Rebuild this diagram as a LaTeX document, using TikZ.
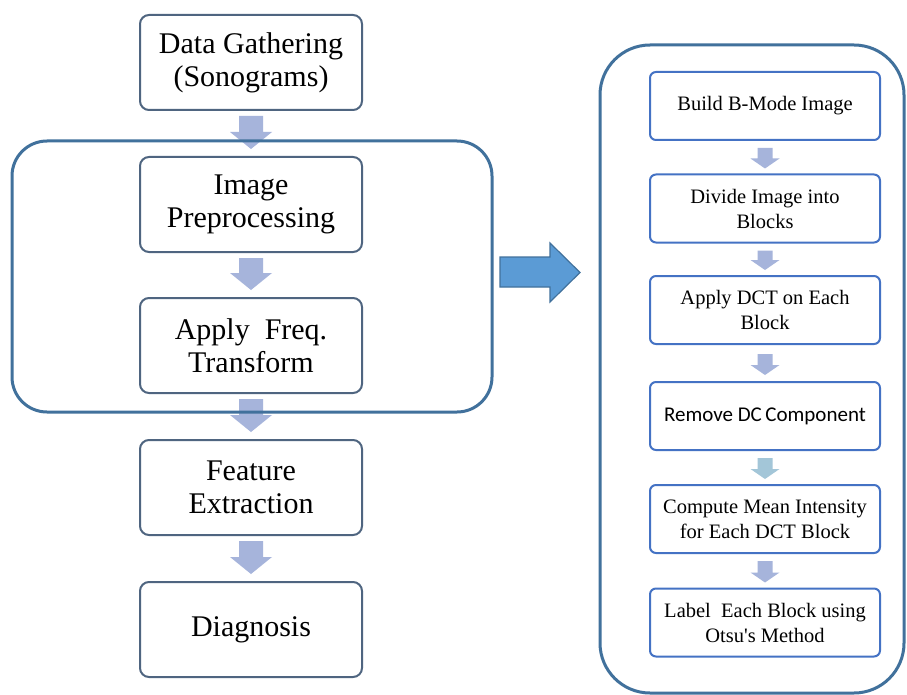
\documentclass[tikz,border=0pt]{standalone}
\usepackage{fontspec}
\setmainfont{Liberation Serif}
\newfontfamily\calib{Carlito}
\usetikzlibrary{calc}
\definecolor{grpc}{HTML}{41719C}
\definecolor{lboxc}{HTML}{4F6580}
\definecolor{rboxc}{HTML}{4472C4}
\definecolor{arrc}{HTML}{A6B4DB}
\definecolor{arrc2}{HTML}{A3C6D8}
\definecolor{bigfill}{HTML}{5B9BD5}
\tikzset{
  lbox/.style={draw=lboxc, line width=2pt, rounded corners=9pt, fill=white,
    minimum width=222pt, minimum height=95pt, inner sep=0pt, align=center,
    font=\rmfamily\fontsize{30}{33}\selectfont},
  rbox/.style={draw=rboxc, line width=2pt, rounded corners=6pt, fill=white,
    minimum width=230pt, minimum height=68pt, inner sep=0pt, align=center,
    font=\rmfamily\fontsize{20.5}{25}\selectfont},
  grp/.style={draw=grpc, line width=3pt},
}
% #1 from, #2 to, #3 shaft half width, #4 head half width, #5 head length, #6 colour, #7 top gap, #8 bottom gap
\newcommand\varr[8]{%
  \fill[#6] ($(#1.south)+(-#3,#7)$) -- ($(#2.north)+(-#3,{-#8-#5})$) -- ($(#2.north)+(-#4,{-#8-#5})$)
    -- ($(#2.north)+(0,-#8)$) -- ($(#2.north)+(#4,{-#8-#5})$) -- ($(#2.north)+(#3,{-#8-#5})$)
    -- ($(#1.south)+(#3,#7)$) -- cycle;}
\begin{document}
\begin{tikzpicture}[x=1pt,y=-1pt]
\useasboundingbox (0,0) rectangle (907,695);
\fill[white] (0,0) rectangle (907,695);
% left column
\node[lbox] (dg) at (251,62.5) {Data Gathering\\(Sonograms)};
\node[lbox] (ip) at (251,204.5) {Image\\Preprocessing};
\node[lbox] (af) at (251,345.5) {Apply\ \ Freq.\\Transform};
\node[lbox] (fe) at (251,487.5) {Feature\\Extraction};
\node[lbox] (dx) at (251,629.5) {Diagnosis};
% right column
\node[rbox] (bm) at (765,106) {Build B-Mode Image};
\node[rbox] (di) at (765,208.5) {Divide Image into\\Blocks};
\node[rbox] (ad) at (765,310) {Apply DCT on Each\\Block};
\node[rbox, font=\calib\fontsize{21}{25}\selectfont] (rd) at (765,416) {Remove\ DC\,Component};
\node[rbox] (cm) at (765,519) {Compute Mean Intensity\\for Each DCT Block};
\node[rbox] (lb) at (765,622.5) {Label\ \ Each Block using\\Otsu\textquotesingle s Method};
% left arrows
\varr{dg}{ip}{12}{21}{17}{arrc}{5}{7}
\varr{ip}{af}{12}{21}{17}{arrc}{5}{7}
\varr{af}{fe}{12}{21}{17}{arrc}{5}{7}
\varr{fe}{dx}{12}{21}{17}{arrc}{5}{7}
% right arrows
\varr{bm}{di}{7.5}{14.5}{10}{arrc}{7}{5}
\varr{di}{ad}{7.5}{14.5}{10}{arrc}{7}{5}
\varr{ad}{rd}{7.5}{14.5}{10}{arrc}{9}{6}
\varr{rd}{cm}{7.5}{14.5}{10}{arrc2}{7}{5}
\varr{cm}{lb}{7.5}{14.5}{10}{arrc}{7}{5}
% groups
\draw[grp, rounded corners=35pt] (12,141) rectangle (492,412);
\draw[grp, rounded corners=50pt] (600,45) rectangle (904,693);
% big arrow
\draw[draw=grpc, line width=1.2pt, fill=bigfill, line join=miter]
  (500,257) -- (550,257) -- (550,243) -- (580,272.5) -- (550,302) -- (550,287) -- (500,287) -- cycle;
\end{tikzpicture}
\end{document}
